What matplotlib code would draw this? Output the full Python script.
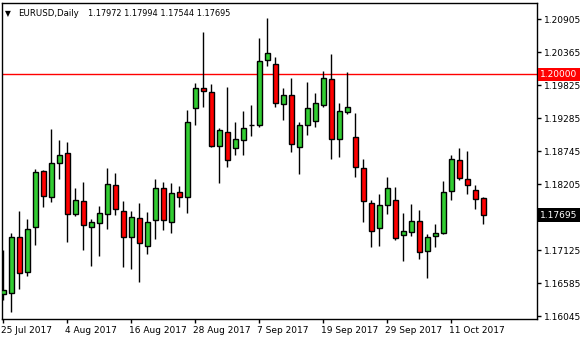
import numpy as np
import matplotlib
matplotlib.use("Agg")
import matplotlib.pyplot as plt
import matplotlib.transforms as mtransforms

symbol = "EURUSD,Daily"
header_values = ["1.17972", "1.17994", "1.17544", "1.17695"]

opens = [1.16400, 1.16416, 1.17333, 1.16760, 1.17496, 1.18413, 1.17987, 1.18544, 1.18707, 1.17719,
         1.17922, 1.17496, 1.17562, 1.17709, 1.18184, 1.17758, 1.17333, 1.17644, 1.17186, 1.17611,
         1.18135, 1.17578, 1.18069, 1.17987, 1.19444, 1.19771, 1.19706, 1.18822, 1.19051, 1.18789,
         1.18920, 1.19170, 1.19166, 1.20229, 1.20164, 1.19509, 1.19656, 1.18806, 1.19166, 1.19231,
         1.19493, 1.19918, 1.18936, 1.19378, 1.18969, 1.18462, 1.17889, 1.17480, 1.17856, 1.17938,
         1.17365, 1.17415, 1.17595, 1.17104, 1.17349, 1.17398, 1.18086, 1.18593, 1.18282, 1.18102,
         1.17972]
highs = [1.17125, 1.17398, 1.17763, 1.17627, 1.18450, 1.18434, 1.19105, 1.18925, 1.18892, 1.18140,
         1.18238, 1.17632, 1.17845, 1.18467, 1.18380, 1.17922, 1.17768, 1.17899, 1.17747, 1.18287,
         1.18238, 1.18221, 1.18167, 1.19411, 1.19853, 1.20687, 1.19836, 1.19121, 1.19787, 1.19215,
         1.19395, 1.19493, 1.20589, 1.20917, 1.20278, 1.19771, 1.19935, 1.19215, 1.19869, 1.19689,
         1.20049, 1.20327, 1.19526, 1.20033, 1.19362, 1.18609, 1.17938, 1.18036, 1.18315, 1.18151,
         1.17726, 1.17873, 1.17775, 1.17382, 1.17546, 1.18249, 1.18675, 1.18789, 1.18740, 1.18184,
         1.17994]
lows = [1.16307, 1.16115, 1.16487, 1.16704, 1.17207, 1.17833, 1.17915, 1.18292, 1.17261, 1.17686,
        1.17130, 1.16868, 1.17032, 1.17473, 1.17693, 1.16852, 1.16809, 1.16606, 1.17064, 1.17300,
        1.17447, 1.17398, 1.17833, 1.17726, 1.19166, 1.19460, 1.18806, 1.18216, 1.18478, 1.18675,
        1.18675, 1.18986, 1.19133, 1.20131, 1.19460, 1.19247, 1.18724, 1.18364, 1.19002, 1.19133,
        1.19460, 1.18609, 1.18642, 1.19346, 1.18315, 1.17578, 1.17169, 1.17195, 1.17719, 1.17293,
        1.16950, 1.17349, 1.16983, 1.16672, 1.17179, 1.17382, 1.17938, 1.18266, 1.18036, 1.17791,
        1.17544]
closes = [1.16470, 1.17333, 1.16744, 1.17464, 1.18396, 1.18004, 1.18544, 1.18675, 1.17719, 1.17938,
          1.17529, 1.17578, 1.17726, 1.18200, 1.17791, 1.17333, 1.17660, 1.17235, 1.17578, 1.18135,
          1.17611, 1.18053, 1.17987, 1.19215, 1.19771, 1.19722, 1.18822, 1.19084, 1.18593, 1.18936,
          1.19116, 1.19170, 1.20213, 1.20344, 1.19526, 1.19656, 1.18855, 1.19166, 1.19444, 1.19526,
          1.19935, 1.18936, 1.19395, 1.19460, 1.18478, 1.17922, 1.17431, 1.17856, 1.18135, 1.17316,
          1.17431, 1.17595, 1.17087, 1.17333, 1.17398, 1.18069, 1.18609, 1.18298, 1.18184, 1.17955,
          1.17695]

date_labels = ["25 Jul 2017", "4 Aug 2017", "16 Aug 2017", "28 Aug 2017",
               "7 Sep 2017", "19 Sep 2017", "29 Sep 2017", "11 Oct 2017"]
date_label_idx = [0, 8, 16, 24, 32, 40, 48, 56]
price_ticks = [1.20905, 1.20365, 1.19825, 1.19285, 1.18745, 1.18205, 1.17125, 1.16585, 1.16045]
level_line = 1.20000
current_price = 1.17695

UP = "#32CD32"
DOWN = "#FF0000"

fig = plt.figure(figsize=(5.8, 3.4), dpi=100)
fig.patch.set_facecolor("white")
ax = fig.add_axes([2 / 580, 21 / 340, 535 / 580, 316.5 / 340])

x = np.arange(len(opens))
o = np.array(opens); h = np.array(highs); l = np.array(lows); c = np.array(closes)
up = c >= o
colors = np.where(up, UP, DOWN)

ax.vlines(x, l, h, color="black", linewidth=1, zorder=2)
ax.bar(x, c - o, bottom=o, width=0.6, color=colors, edgecolor="black",
       linewidth=1, zorder=3)

ax.axhline(level_line, color="red", linewidth=1, zorder=1)

ax.set_xlim(-0.1625, 66.71)
ax.set_ylim(1.15996, 1.21175)

ax.yaxis.tick_right()
ax.set_yticks(price_ticks)
ax.set_yticklabels([f"{t:.5f}" for t in price_ticks])
ax.tick_params(axis="y", direction="out", length=3, width=1, pad=2,
               labelsize=6.5, colors="black")
ax.set_xticks(date_label_idx)
ax.set_xticklabels(date_labels, ha="left")
ax.tick_params(axis="x", direction="out", length=3, width=1, pad=2,
               labelsize=6.5, colors="black")
for lbl in ax.get_xticklabels():
    lbl.set_transform(lbl.get_transform() + mtransforms.ScaledTranslation(-2 / 100, 0, fig.dpi_scale_trans))

for s in ax.spines.values():
    s.set_color("black")
    s.set_linewidth(1)

trans = mtransforms.blended_transform_factory(ax.transAxes, ax.transData)
ax.text(1.006, level_line, f"{level_line:.5f}", transform=trans, ha="left", va="center",
        fontsize=6.5, color="white",
        bbox=dict(boxstyle="square,pad=0.25", facecolor="red", edgecolor="none"),
        zorder=5, clip_on=False)
ax.text(1.006, current_price, f"{current_price:.5f}", transform=trans, ha="left", va="center",
        fontsize=6.5, color="white",
        bbox=dict(boxstyle="square,pad=0.25", facecolor="black", edgecolor="none"),
        zorder=5, clip_on=False)

ax.text(0.005, 0.965, "\u25bc", transform=ax.transAxes, ha="left", va="center",
        fontsize=5.5, color="black")
ax.text(0.03, 0.965, symbol, transform=ax.transAxes,
        ha="left", va="center", fontsize=6.2, color="black")
ax.text(0.161, 0.965, " ".join(header_values), transform=ax.transAxes,
        ha="left", va="center", fontsize=5.9, color="black")

fig.savefig("out.png", dpi=100, facecolor="white")
